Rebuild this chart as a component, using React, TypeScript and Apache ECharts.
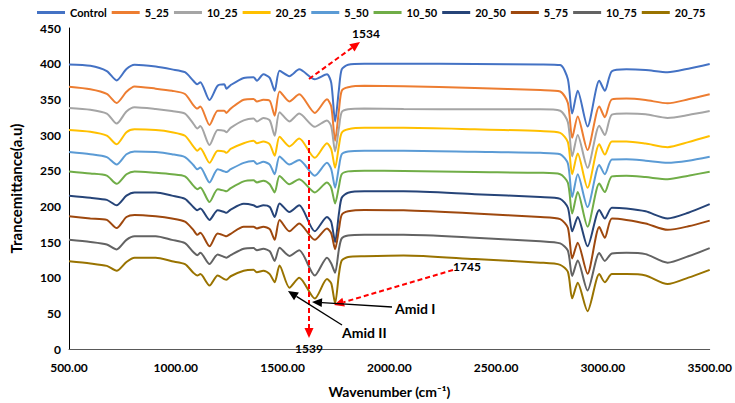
import React, { useEffect, useRef } from "react";
import * as echarts from "echarts";

const wavenumbers = [500, 600, 677, 723, 769, 807, 906, 982, 1043, 1082, 1101, 1115, 1158, 1196, 1227, 1237, 1257, 1318, 1364, 1380, 1410, 1440, 1463, 1486, 1532, 1578, 1651, 1708, 1728, 1746, 1764, 1777, 1807, 1883, 2067, 2400, 2707, 2800, 2836, 2856, 2882, 2928, 2983, 3009, 3042, 3110, 3200, 3303, 3400, 3500];

const control = [399, 397, 389.5, 376.5, 392.5, 398.5, 396, 392, 388, 376, 371, 374, 349, 369, 371, 365, 370, 380, 381, 376, 385, 380, 362, 390, 382.5, 392, 378, 385, 373, 319, 364, 392, 398.5, 400, 400, 399.5, 399, 398, 378, 330, 362, 312, 376, 362, 389.5, 392, 391, 388, 393, 399.5];
const s5_25 = [367.5, 364, 357.5, 345, 360.5, 368, 365, 362, 357.5, 342, 337, 340, 314, 334, 334, 331, 337, 349.5, 350.5, 347, 349.5, 348, 327, 361, 347, 357, 331, 350, 340, 292, 335, 362, 367, 369, 368.5, 366, 363, 361, 345, 296, 326, 279, 340, 325, 350, 351, 349, 344.5, 350, 357];
const s10_25 = [338, 335.5, 330, 316, 333, 339, 336.5, 333.5, 330, 316, 309, 312.5, 286, 307, 306, 304, 310, 320.5, 323, 319, 324, 320.5, 299, 332, 319, 330, 311.5, 320.5, 312, 277, 310, 332, 336, 337, 336.5, 336, 336, 334, 318, 270, 300, 254, 313, 300, 328.5, 330, 329, 324, 328, 333.5];
const s20_25 = [307, 304.5, 299, 287, 304, 308, 307, 304, 299, 284, 278, 281.5, 261, 278, 277, 275, 280.5, 288.5, 292, 288.5, 291, 287, 271, 297.5, 284, 295, 268, 288.5, 280, 254, 285, 303, 308, 310, 310, 308, 305.5, 303, 290, 245, 274, 226, 287, 272.5, 291, 291, 288, 283, 290, 298.5];
const s5_50 = [276, 273, 269, 258.5, 273, 277, 276, 273, 269, 258, 252, 254.5, 233.5, 252, 249, 248, 252, 261, 263.5, 259.5, 262.5, 258.5, 245, 270, 258.5, 265, 243, 261, 252, 226, 255, 273, 277, 278, 278, 276.5, 275, 273, 260, 213, 245, 199, 258, 245, 265.5, 266, 264, 261, 264, 269.5];
const s10_50 = [249, 246, 243, 231.5, 245, 249, 247, 245, 242, 229, 224, 226.5, 206, 224, 222, 221, 225.5, 235, 236.5, 233.5, 236, 231, 219.5, 242.5, 231, 238, 219.5, 233.5, 226, 204, 228, 245, 249, 250, 249.5, 248, 247, 245, 233, 190, 220, 171.5, 232, 220, 242, 243, 241, 238, 243, 248.5];
const s20_50 = [215, 212, 209, 201.5, 215, 219.5, 219.5, 215, 210.5, 199, 194.5, 197, 181, 194.5, 192, 191, 195.5, 203.5, 201.5, 199, 201.5, 199, 185, 204, 192, 201.5, 165, 185, 178, 150, 190, 212, 219, 221, 221, 217, 213, 210.5, 198, 165, 185, 144, 195, 183, 198, 197, 193, 183, 191, 203];
const s5_75 = [186, 183, 181, 169.5, 185, 188, 186, 183, 178.5, 167, 160, 163, 144, 162, 159, 158, 161.5, 171.5, 171.5, 169, 171.5, 168, 153, 181, 165, 176, 153, 169, 162, 140, 168, 188, 193, 195, 194.5, 190, 185, 182, 170, 127, 149, 105.5, 171, 156, 183, 181, 176, 167, 172, 180];
const s10_75 = [153, 150, 146.5, 139.5, 153, 158, 158, 153, 148.5, 136, 131.5, 135, 119, 132.5, 129, 128, 131.5, 140.5, 141.5, 138.5, 140.5, 137, 123.5, 142, 130.5, 138.5, 103, 128, 120, 107, 140, 155, 159, 160, 160, 156, 151, 148, 138, 102.5, 124, 82, 134.5, 123.5, 134, 135, 133, 121, 130, 141.5];
const s20_75 = [123, 120, 116.5, 109.7, 122, 128, 128, 123, 119, 107, 103, 105, 89, 103, 98, 97, 102, 109.7, 111, 107.5, 109.7, 105, 93.6, 117, 86, 100, 70.7, 98, 92, 64, 105, 124, 129, 130, 131, 126, 121, 118, 108, 71, 92.7, 53, 105, 93.6, 105, 105, 103, 91, 100, 111];

const seriesNames = ["Control", "5_25", "10_25", "20_25", "5_50", "10_50", "20_50", "5_75", "10_75", "20_75"];
const seriesValues = [control, s5_25, s10_25, s20_25, s5_50, s10_50, s20_50, s5_75, s10_75, s20_75];
const seriesColors = ["#4472C4", "#ED7D31", "#A5A5A5", "#FFC000", "#5B9BD5", "#70AD47", "#264478", "#9E480E", "#636363", "#997300"];

const FONT = "Lato, 'Open Sans', sans-serif";

function arrow(x1: number, y1: number, x2: number, y2: number, color: string, dashed: boolean) {
  const dx = x2 - x1;
  const dy = y2 - y1;
  const len = Math.sqrt(dx * dx + dy * dy);
  const ux = dx / len;
  const uy = dy / len;
  const hl = 10;
  const hw = 9;
  const bx = x2 - ux * hl;
  const by = y2 - uy * hl;
  const px = -uy;
  const py = ux;
  return [
    {
      type: "line",
      shape: { x1, y1, x2: bx, y2: by },
      style: { stroke: color, lineWidth: dashed ? 2 : 1.3, lineDash: dashed ? [5, 3] : null },
      z: 100,
    },
    {
      type: "polygon",
      shape: {
        points: [
          [x2, y2],
          [bx + (px * hw) / 2, by + (py * hw) / 2],
          [bx - (px * hw) / 2, by - (py * hw) / 2],
        ],
      },
      style: { fill: color },
      z: 100,
    },
  ];
}

function label(text: string, x: number, y: number, size: number, align: string) {
  return {
    type: "text",
    x,
    y,
    z: 100,
    style: {
      text,
      fill: "#000",
      fontSize: size,
      fontWeight: "bold",
      fontFamily: FONT,
      align,
      verticalAlign: "middle",
    },
  };
}

export default function App() {
  const ref = useRef<HTMLDivElement>(null);
  useEffect(() => {
    const chart = echarts.init(ref.current!, null, { renderer: "svg" });
    const series = seriesNames.map((name, i) => ({
      name,
      type: "line",
      data: wavenumbers.map((w, j) => [w, seriesValues[i][j]]),
      showSymbol: false,
      smooth: 0.25,
      lineStyle: { width: 2, color: seriesColors[i] },
      itemStyle: { color: seriesColors[i] },
    }));
    chart.setOption({
      animation: false,
      backgroundColor: "#fff",
      grid: { left: 58, right: 22, top: 28, bottom: 48 },
      legend: {
        top: 2,
        left: 32,
        width: 703,
        icon: "rect",
        itemWidth: 28,
        itemHeight: 3,
        itemGap: 5,
        textStyle: { fontFamily: FONT, fontWeight: "bold", fontSize: 11, color: "#000" },
        data: seriesNames,
      },
      xAxis: {
        type: "value",
        min: 500,
        max: 3500,
        interval: 500,
        name: "Wavenumber (cm⁻¹)",
        nameLocation: "middle",
        nameGap: 35,
        nameTextStyle: { fontFamily: FONT, fontWeight: "bold", fontSize: 14, color: "#000" },
        axisLine: { lineStyle: { color: "#595959", width: 1 } },
        axisTick: { show: false },
        splitLine: { show: false },
        axisLabel: {
          formatter: (v: number) => v.toFixed(2),
          fontFamily: FONT,
          fontWeight: "bold",
          fontSize: 12,
          color: "#000",
          margin: 12,
        },
      },
      yAxis: {
        type: "value",
        min: 0,
        max: 450,
        interval: 50,
        name: "Trancemittance(a.u)",
        nameLocation: "middle",
        nameGap: 46,
        nameTextStyle: { fontFamily: FONT, fontWeight: "bold", fontSize: 15, color: "#000" },
        axisLine: { show: true, lineStyle: { color: "#000", width: 1 } },
        axisTick: { show: false },
        splitLine: { show: false },
        axisLabel: { fontFamily: FONT, fontWeight: "bold", fontSize: 12, color: "#000", margin: 8 },
      },
      series,
      graphic: [
        ...arrow(309, 140, 309, 338, "#FF0000", true),
        ...arrow(309, 79, 360, 42, "#FF0000", true),
        ...arrow(453, 270, 334, 305, "#FF0000", true),
        ...arrow(392, 307, 312, 302, "#000", false),
        ...arrow(342, 325, 288, 291, "#000", false),
        label("1534", 366, 33, 12, "center"),
        label("1539", 309, 348, 12, "center"),
        label("1745", 467, 266, 12, "center"),
        label("Amid I", 395, 308, 14, "left"),
        label("Amid II", 342, 332, 14, "left"),
      ],
    });
    return () => chart.dispose();
  }, []);
  return <div ref={ref} style={{ position: "fixed", left: 0, top: 0, width: 735, height: 403 }} />;
}
